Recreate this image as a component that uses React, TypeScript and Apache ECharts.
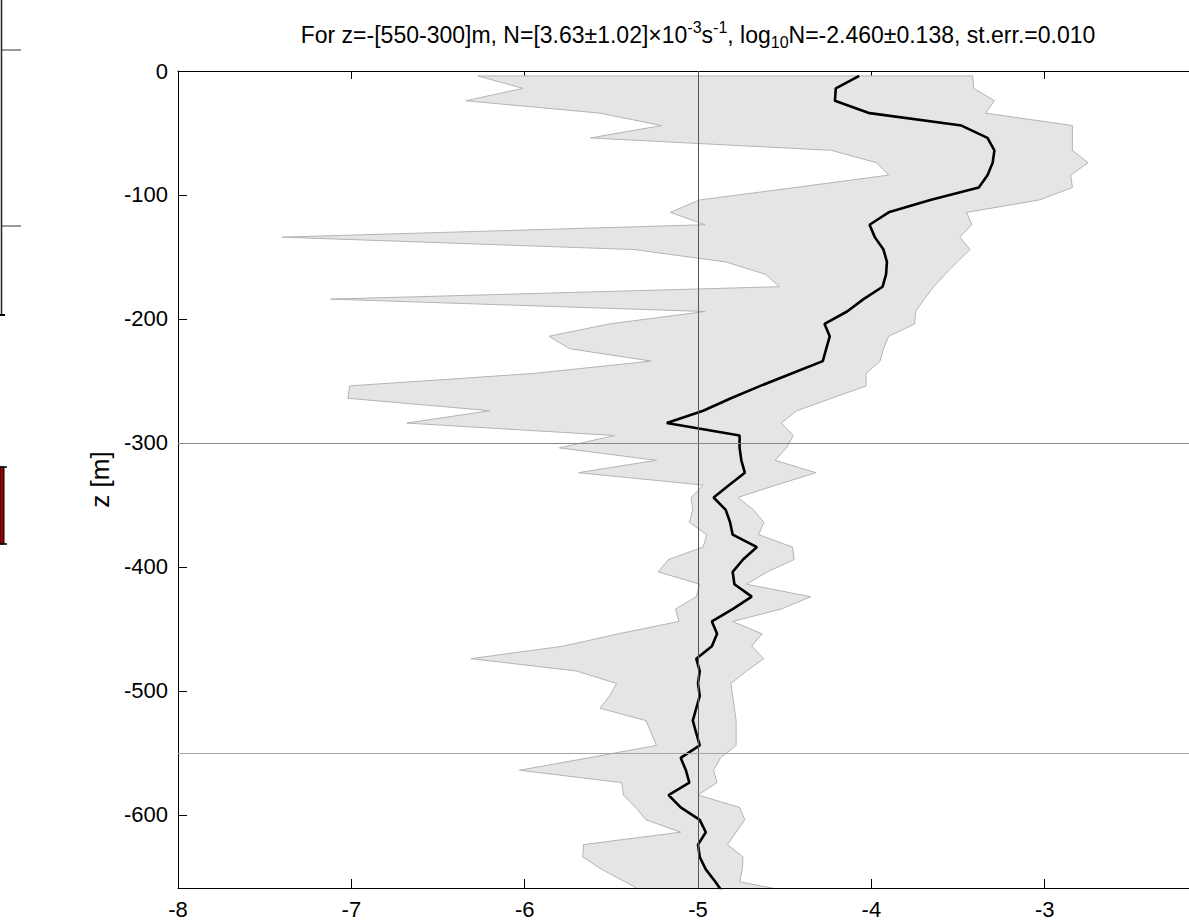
import React, { useEffect, useRef } from "react";
import * as echarts from "echarts";

// depth of each profile sample [m]
const depths = [
  -4, -14, -24, -34, -44, -54, -64, -74, -84, -94,
  -104, -114, -124, -134, -144, -154, -164, -174, -184, -194,
  -204, -214, -224, -234, -244, -254, -264, -274, -284, -294,
  -304, -314, -324, -334, -344, -354, -364, -374, -384, -394,
  -404, -414, -424, -434, -444, -454, -464, -474, -484, -494,
  -504, -514, -524, -534, -544, -554, -564, -574, -584, -594,
  -604, -614, -624, -634, -644, -654, -664,
];

// mean log10 value (black curve)
const meanLog = [
  -4.07, -4.205, -4.21, -4.01, -3.48, -3.33, -3.29, -3.3, -3.33, -3.38,
  -3.66, -3.9, -4.01, -3.98, -3.93, -3.91, -3.915, -3.935, -4.045, -4.14,
  -4.27, -4.24, -4.26, -4.28, -4.46, -4.64, -4.81, -4.97, -5.18, -4.76,
  -4.76, -4.75, -4.73, -4.82, -4.91, -4.84, -4.815, -4.8, -4.66, -4.74,
  -4.8, -4.79, -4.69, -4.8, -4.92, -4.89, -4.92, -5.01, -4.99, -5.0,
  -4.99, -5.01, -5.03, -5.01, -4.99, -5.1, -5.07, -5.05, -5.17, -5.1,
  -4.99, -4.955, -5.0, -4.99, -4.955, -4.9, -4.85,
];

// lower edge of the grey band
const lowerLog = [
  -6.27, -6.01, -6.34, -5.565, -5.21, -5.62, -4.23, -3.97, -3.9, -4.44,
  -4.99, -5.16, -4.96, -7.4, -5.37, -4.84, -4.61, -4.53, -7.12, -4.96,
  -5.51, -5.86, -5.74, -5.27, -5.95, -7.01, -7.02, -6.2, -6.68, -5.48,
  -5.8, -5.24, -5.69, -4.97, -5.04, -5.03, -5.05, -4.95, -4.97, -5.17,
  -5.23, -4.99, -5.01, -5.13, -5.11, -5.46, -5.78, -6.31, -5.7, -5.47,
  -5.51, -5.565, -5.3, -5.27, -5.24, -5.63, -6.03, -5.44, -5.43, -5.36,
  -5.3, -5.1, -5.66, -5.665, -5.555, -5.42, -5.29,
];

// upper edge of the grey band
const upperLog = [
  -3.415, -3.41, -3.29, -3.34, -2.84, -2.84, -2.84, -2.75, -2.85, -2.84,
  -3.03, -3.45, -3.42, -3.49, -3.43, -3.505, -3.575, -3.64, -3.695, -3.745,
  -3.75, -3.9, -3.93, -3.95, -4.03, -4.03, -4.23, -4.43, -4.52, -4.45,
  -4.49, -4.555, -4.32, -4.55, -4.77, -4.68, -4.62, -4.65, -4.455, -4.445,
  -4.6, -4.72, -4.35, -4.52, -4.8, -4.63, -4.69, -4.62, -4.72, -4.81,
  -4.8, -4.79, -4.78, -4.78, -4.78, -4.87, -4.91, -4.89, -5.0, -4.76,
  -4.73, -4.78, -4.83, -4.74, -4.745, -4.76, -4.39,
];

const yTicks = [0, -100, -200, -300, -400, -500, -600];
const refX = -5;
const refDepths = [-300, -550];
const X_MIN = -8;
const X_MAX = -2;
const X_STEP = 1;
const Y_MIN = -659;
const Y_MAX = 0;

const TITLE_PARTS = {
  a1: "For z=-[550-300]m, N=[3.63±1.02]×10",
  s1: "-3",
  a2: "s",
  s2: "-1",
  a3: ", log",
  b1: "10",
  a4: "N=-2.460±0.138, st.err.=0.010",
};

const FONT = "'Liberation Sans', Arial, Helvetica, sans-serif";

export default function App() {
  const ref = useRef<HTMLDivElement>(null);

  useEffect(() => {
    document.body.style.margin = "0";
    const chart = echarts.init(ref.current as HTMLDivElement, null, { renderer: "svg" });

    const bandData = depths.map((d, i) => [lowerLog[i], d]);
    const meanData = depths.map((d, i) => [meanLog[i], d]);

    const axisCommon = {
      type: "value",
      min: X_MIN,
      max: X_MAX,
      interval: X_STEP,
      splitLine: { show: false },
    };

    const option: any = {
      animation: false,
      backgroundColor: "#ffffff",
      grid: { left: 178, right: 0, top: 71, bottom: 29, containLabel: false },
      xAxis: [
        {
          ...axisCommon,
          position: "bottom",
          axisLine: { show: true, onZero: false, lineStyle: { color: "#000", width: 1 } },
          axisTick: { show: true, inside: true, length: 9, lineStyle: { color: "#000", width: 1 } },
          axisLabel: {
            show: true,
            color: "#000",
            fontSize: 22,
            fontFamily: FONT,
            margin: 10,
            showMaxLabel: false,
          },
        },
        {
          ...axisCommon,
          position: "top",
          axisLine: { show: true, onZero: false, lineStyle: { color: "#000", width: 1 } },
          axisTick: { show: true, inside: true, length: 8, lineStyle: { color: "#000", width: 1 } },
          axisLabel: { show: false },
        },
      ],
      yAxis: {
        type: "value",
        min: Y_MIN,
        max: Y_MAX,
        name: "z [m]",
        nameLocation: "middle",
        nameRotate: 90,
        nameGap: 64,
        nameTextStyle: { color: "#000", fontSize: 26, fontFamily: FONT },
        splitLine: { show: false },
        axisLine: { show: true, onZero: false, lineStyle: { color: "#000", width: 1 } },
        axisTick: {
          show: true,
          inside: true,
          length: 9,
          customValues: yTicks,
          lineStyle: { color: "#000", width: 1 },
        },
        axisLabel: {
          show: true,
          customValues: yTicks,
          color: "#000",
          fontSize: 22,
          fontFamily: FONT,
          margin: 10,
        },
      },
      series: [
        {
          type: "custom",
          name: "band",
          xAxisIndex: 0,
          yAxisIndex: 0,
          data: bandData,
          encode: { x: 0, y: 1 },
          clip: true,
          z: 1,
          silent: true,
          renderItem: (params: any, api: any) => {
            if (params.dataIndex !== 0) return null;
            const pts: number[][] = [];
            for (let i = 0; i < depths.length; i++) pts.push(api.coord([lowerLog[i], depths[i]]));
            for (let i = depths.length - 1; i >= 0; i--) pts.push(api.coord([upperLog[i], depths[i]]));
            return {
              type: "polygon",
              shape: { points: pts },
              style: { fill: "#e5e5e5", stroke: "#b4b4b4", lineWidth: 1 },
            };
          },
        },
        {
          type: "line",
          name: "refs",
          xAxisIndex: 0,
          yAxisIndex: 0,
          data: [],
          z: 2,
          silent: true,
          markLine: {
            silent: true,
            symbol: ["none", "none"],
            label: { show: false },
            animation: false,
            data: [
              { xAxis: refX, lineStyle: { color: "#555", width: 1, type: "solid" } },
              { yAxis: refDepths[0], lineStyle: { color: "#888", width: 1, type: "solid" } },
              { yAxis: refDepths[1], lineStyle: { color: "#a6a6a6", width: 1.2, type: "solid" } },
            ],
          },
        },
        {
          type: "line",
          name: "mean",
          xAxisIndex: 0,
          yAxisIndex: 0,
          data: meanData,
          showSymbol: false,
          symbol: "none",
          clip: true,
          z: 3,
          lineStyle: { color: "#000", width: 2.6 },
        },
      ],
      graphic: [
        {
          type: "text",
          x: 698,
          y: 35,
          z: 10,
          style: {
            text:
              `{a|${TITLE_PARTS.a1}}{s|${TITLE_PARTS.s1}}{a|${TITLE_PARTS.a2}}{s|${TITLE_PARTS.s2}}` +
              `{a|${TITLE_PARTS.a3}}{b|${TITLE_PARTS.b1}}{a|${TITLE_PARTS.a4}}`,
            align: "center",
            verticalAlign: "middle",
            fill: "#000",
            rich: {
              a: { fontSize: 23, fontFamily: FONT, fill: "#000", lineHeight: 31 },
              s: { fontSize: 16, fontFamily: FONT, fill: "#000", lineHeight: 16, verticalAlign: "top" },
              b: { fontSize: 16, fontFamily: FONT, fill: "#000", lineHeight: 16, verticalAlign: "bottom" },
            },
          },
        },
        // fragments of the neighbouring panel on the left edge
        { type: "line", shape: { x1: 1.5, y1: 0, x2: 1.5, y2: 315 }, style: { stroke: "#222", lineWidth: 1.5 } },
        { type: "line", shape: { x1: 2, y1: 50, x2: 21, y2: 50 }, style: { stroke: "#333", lineWidth: 1 } },
        { type: "line", shape: { x1: 2, y1: 226, x2: 21, y2: 226 }, style: { stroke: "#333", lineWidth: 1 } },
        { type: "line", shape: { x1: 0, y1: 315, x2: 5, y2: 315 }, style: { stroke: "#000", lineWidth: 2 } },
        { type: "rect", shape: { x: 0, y: 467, width: 4, height: 77 }, style: { fill: "#990000", stroke: "#000", lineWidth: 1 } },
        { type: "line", shape: { x1: 0, y1: 467, x2: 7, y2: 467 }, style: { stroke: "#000", lineWidth: 1.5 } },
        { type: "line", shape: { x1: 0, y1: 544, x2: 7, y2: 544 }, style: { stroke: "#000", lineWidth: 1.5 } },
      ],
    };

    chart.setOption(option);
    return () => chart.dispose();
  }, []);

  return (
    <div style={{ width: 1189, height: 920, overflow: "hidden", position: "relative" }}>
      <div ref={ref} style={{ width: 1218, height: 920 }} />
    </div>
  );
}
